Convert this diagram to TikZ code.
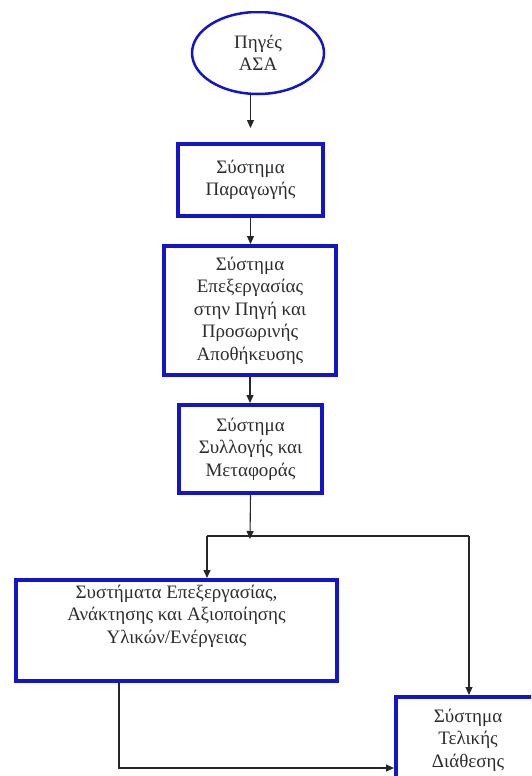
\documentclass[tikz,border=0pt]{standalone}
\usepackage{fontspec}
\setmainfont{Liberation Serif}
\usetikzlibrary{arrows.meta,shapes.geometric}
\definecolor{bb}{RGB}{20,20,200}
\definecolor{tx}{RGB}{45,45,45}
\begin{document}
\begin{tikzpicture}[x=1pt,y=-1pt,
  box/.style={draw=bb, line width=4pt, rectangle, inner sep=0pt, fill=white},
  lbl/.style={font=\fontsize{19}{22.5}\selectfont, align=center, text=tx},
  arr/.style={draw=black!85, line width=1.1pt, -{Triangle[length=8pt,width=7pt]}},
  ln/.style={draw=black!85, line width=1.1pt}]
\useasboundingbox (0,0) rectangle (531,776);
\fill[white] (0,0) rectangle (531,776);
\clip (0,0) rectangle (531,776);
\begin{scope}
\clip (0,12) rectangle (531,776);
\node[ellipse, draw=bb, line width=2.5pt, minimum width=132pt, minimum height=82pt, inner sep=0pt, lbl] (e) at (258,53) {Πηγές\\ΑΣΑ};
\end{scope}
\node[box, lbl, minimum width=145pt, minimum height=72pt] (b2) at (250.5,180) {Σύστημα\\Παραγωγής};
\node[box, lbl, minimum width=172pt, minimum height=129pt] (b3) at (250,310.5) {Σύστημα\\Επεξεργασίας\\στην Πηγή και\\Προσωρινής\\Αποθήκευσης};
\node[box, lbl, minimum width=143pt, minimum height=88pt] (b4) at (250.5,449) {Σύστημα\\Συλλογής και\\Μεταφοράς};
\node[box, minimum width=321pt, minimum height=101pt] (b5) at (176.5,630.5) {};
\node[lbl] (t5) at (176.5,616) {Συστήματα Επεξεργασίας,\\Ανάκτησης και Αξιοποίησης\\Υλικών/Ενέργειας};
\node[box, minimum width=146pt, minimum height=102pt] (b6) at (469,748) {};
\node[lbl] (t6) at (468,740) {Σύστημα\\Τελικής\\Διάθεσης};
\coordinate (j) at (250,536);
\coordinate (jl) at (207,536);
\coordinate (jr) at (469,536);
\coordinate (k) at (119,768);
\draw[arr, shorten >=14pt] (e.south -| b2.north) -- (b2.north);
\draw[arr] (b2.south) -- (b2.south |- b3.north);
\draw[arr] (b3.south) -- (b3.south |- b4.north);
\draw[arr] (b4.south) -- ([yshift=-3pt]j);
\draw[ln] (jl) -- (jr);
\draw[arr] (jl) -- (jl |- b5.north);
\draw[arr] (jr) -- (jr |- b6.north);
\draw[arr] (k |- b5.south) -- (k) -- (k -| b6.west);
\end{tikzpicture}
\end{document}
